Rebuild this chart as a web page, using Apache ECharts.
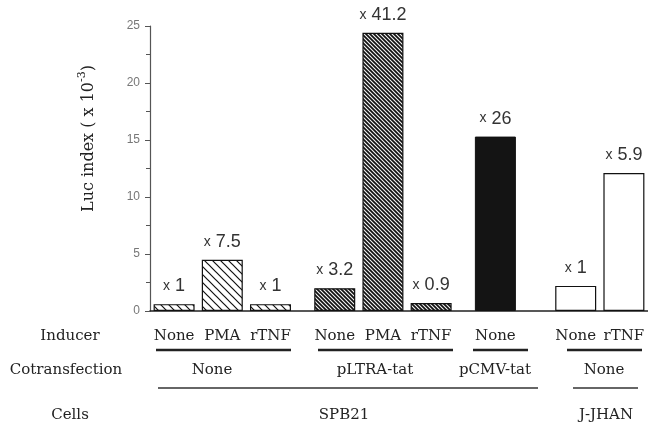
<!DOCTYPE html>
<html><head><meta charset="utf-8">
<script src="https://cdn.jsdelivr.net/npm/echarts@6/dist/echarts.min.js"></script>
<style>html,body{margin:0;padding:0;background:#fff}#c{width:648px;height:431px}</style>
</head><body><div id="c"></div>
<script>
// ---- data ----
const inducers = ['None', 'PMA', 'rTNF', 'None', 'PMA', 'rTNF', 'None', 'None', 'rTNF'];
const lucIndex = [0.6, 4.5, 0.6, 2.0, 24.4, 0.7, 15.3, 2.2, 12.1];
const foldChange = ['1', '7.5', '1', '3.2', '41.2', '0.9', '26', '1', '5.9'];
const groupOf = [0, 0, 0, 1, 1, 1, 2, 3, 3];
const cotransfection = ['None', 'pLTRA-tat', 'pCMV-tat', 'None'];
const cells = ['SPB21', 'J-JHAN'];
const rowTitles = ['Inducer', 'Cotransfection', 'Cells'];
const yTicks = [0, 5, 10, 15, 20, 25];

// ---- layout (category slots, spacer slots between groups) ----
const N_SLOTS = 31;
const slotOf = [1, 4, 7, 11, 14, 17, 21, 26, 29];

function hatch(size, lw, color, bg) {
  const c = document.createElement('canvas');
  c.width = c.height = size;
  const g = c.getContext('2d');
  g.fillStyle = bg; g.fillRect(0, 0, size, size);
  g.strokeStyle = color; g.lineWidth = lw;
  g.beginPath();
  g.moveTo(-1, -1); g.lineTo(size + 1, size + 1);
  g.moveTo(size - 1, -1); g.lineTo(size + 1, 1);
  g.moveTo(-1, size - 1); g.lineTo(1, size + 1);
  g.stroke();
  return c;
}
const groupStyles = [
  { color: { image: hatch(8, 1.2, '#111', '#fff'), repeat: 'repeat' }, borderColor: '#111', borderWidth: 1.2 },
  { color: { image: hatch(4, 1.7, '#111', '#f4f4f4'), repeat: 'repeat' }, borderColor: '#111', borderWidth: 1.2 },
  { color: '#141414', borderColor: '#111', borderWidth: 1 },
  { color: '#fff', borderColor: '#111', borderWidth: 1.2 }
];

const cats = [], labelFor = [], seriesData = [];
for (let s = 0; s < N_SLOTS; s++) { cats.push('s' + s); labelFor.push(''); seriesData.push('-'); }
inducers.forEach((name, i) => {
  const s = slotOf[i];
  labelFor[s] = name;
  seriesData[s] = {
    value: lucIndex[i],
    itemStyle: groupStyles[groupOf[i]],
    label: { formatter: '{x|x}{n|' + foldChange[i] + '}' }
  };
});

const serif = 'DejaVu Serif';
const txt = (text, x, y) => ({
  type: 'text', x: x, y: y,
  style: { text: text, font: '15px "' + serif + '"', fill: '#222', textAlign: 'center', textVerticalAlign: 'middle' }
});
const hline = (x1, x2, y, w, c) => ({
  type: 'line', shape: { x1: x1, y1: y, x2: x2, y2: y }, style: { stroke: c, lineWidth: w }
});

const cotransX = [212, 375, 495, 604];
const cellsX = [344, 606];
const graphics = [
  txt(rowTitles[0], 70, 336), txt(rowTitles[1], 66, 370), txt(rowTitles[2], 70, 415),
  hline(156, 291, 350, 2.5, '#222'), hline(318, 453, 350, 2.5, '#222'),
  hline(473, 528, 350, 2.5, '#222'), hline(567, 642, 350, 2.5, '#222'),
  hline(158, 538, 388, 1.5, '#333'), hline(573, 638, 388, 1.5, '#333')
];
cotransfection.forEach((t, i) => graphics.push(txt(t, cotransX[i], 370)));
cells.forEach((t, i) => graphics.push(txt(t, cellsX[i], 415)));

const chart = echarts.init(document.getElementById('c'), null, { renderer: 'canvas' });
chart.setOption({
  animation: false,
  backgroundColor: '#fff',
  grid: { left: 150, right: 0, top: 26, bottom: 120, containLabel: false },
  xAxis: {
    type: 'category', data: cats, boundaryGap: true,
    axisLine: { show: true, lineStyle: { color: '#222', width: 1.5 } },
    axisTick: { show: false },
    axisLabel: {
      interval: 0, margin: 18, fontFamily: serif, fontSize: 15, color: '#222',
      formatter: (v, idx) => labelFor[idx]
    },
    splitLine: { show: false }
  },
  yAxis: {
    type: 'value', min: yTicks[0], max: yTicks[yTicks.length - 1], interval: 5,
    name: '{a|Luc index ( x 10}{s|-3}{a|)}', nameLocation: 'middle', nameGap: 53,
    nameTextStyle: {
      padding: [0, 0, 0, 60],
      rich: {
        a: { fontFamily: serif, fontSize: 16, color: '#222', lineHeight: 20, verticalAlign: 'bottom' },
        s: { fontFamily: serif, fontSize: 11, color: '#222', verticalAlign: 'top' }
      }
    },
    axisLine: { show: true, lineStyle: { color: '#555', width: 1.2 } },
    axisTick: { show: true, length: 5, inside: false, lineStyle: { color: '#555' } },
    minorTick: { show: true, splitNumber: 2, length: 4, lineStyle: { color: '#555' } },
    axisLabel: { margin: 10, fontFamily: 'Liberation Sans', fontSize: 12, color: '#777' },
    splitLine: { show: false }
  },
  series: [{
    type: 'bar', data: seriesData, barWidth: 41,
    label: {
      show: true, position: 'top', distance: 9,
      rich: {
        x: { fontFamily: 'Liberation Sans', fontSize: 14, color: '#333', padding: [0, 5, 0, 0] },
        n: { fontFamily: 'Liberation Sans', fontSize: 18, color: '#333' }
      }
    }
  }],
  graphic: graphics
});
</script></body></html>
